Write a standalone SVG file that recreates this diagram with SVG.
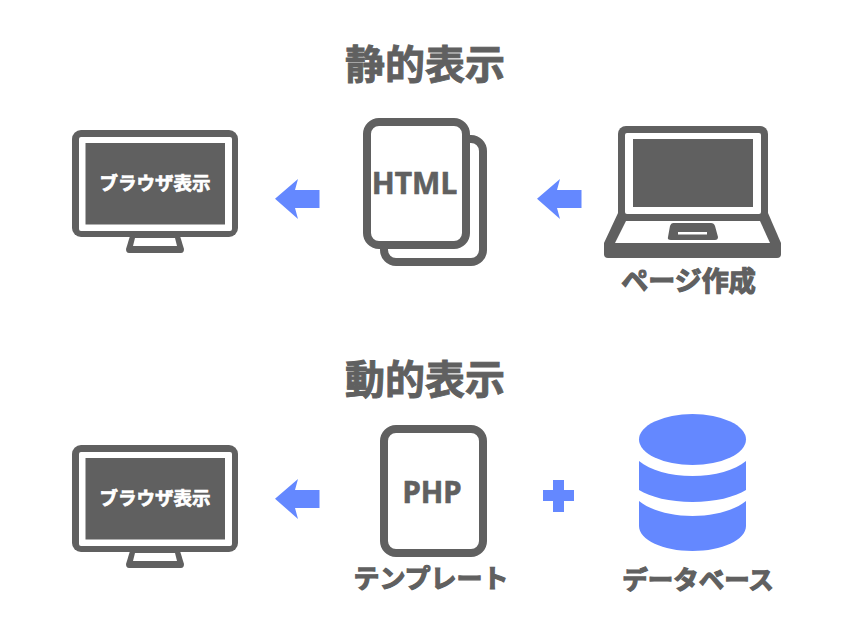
<svg xmlns="http://www.w3.org/2000/svg" width="850" height="638" viewBox="0 0 850 638">
<style>
.g{fill:#606060}
.b{fill:#6488ff}
.w{fill:#fff}
.o{fill:#fff;stroke:#606060;stroke-width:8}
text{font-family:"Noto Sans CJK JP","Noto Sans",sans-serif;font-weight:700;text-anchor:middle}
.t{fill:#606060;font-size:40px;stroke:#606060;stroke-width:.9}
.l{fill:#606060;stroke:#606060;stroke-width:1.2}
.s{fill:#fff;font-size:18.500px;stroke:#fff;stroke-width:.7}
.d{fill:#606060;font-family:"Noto Sans",sans-serif;stroke:#606060;stroke-width:.6}
</style>
<defs>
<g id="mon">
<rect x="72" y="130" width="166" height="107" rx="9" class="g"/>
<rect x="79" y="137" width="153" height="94" rx="2" class="w"/>
<rect x="85.500" y="143" width="139.500" height="81.500" class="g"/>
<path d="M130 236H180L184 249Q184 253 181 253H129Q126 253 126 249Z" class="g"/>
<path d="M135 238H175L177 246H133Z" class="w"/>
</g>
<path id="arr" d="M275 198.700L298 179L295 190H319.500V208H295L298 219Z" class="b"/>
</defs>
<g id="connectors">
<use href="#arr"/>
<use href="#arr" x="262"/>
<use href="#arr" y="300"/>
<path id="plus" d="M553 480H564V490H574V501H564V512H553V501H543V490H553Z" class="b"/>
</g>
<g id="title-static"><text x="425" y="79" class="t">静的表示</text></g>
<g id="title-dynamic"><text x="425" y="394" class="t">動的表示</text></g>
<g id="browser-1">
<use href="#mon"/>
<text x="155" y="190" class="s">ブラウザ表示</text>
</g>
<g id="html">
<rect x="384" y="139" width="99" height="123" rx="12" class="o"/>
<rect x="367" y="122" width="99" height="123" rx="12" class="o"/>
<text x="414.500" y="194" font-size="30" class="d">HTML</text>
</g>
<g id="laptop">
<path d="M618 213L604 243V254Q604 258 608 258H777Q781 258 781 254V243L768 213Z" class="g"/>
<path d="M626 221H760L770 243H615Z" class="w"/>
<path d="M673 223H711Q714 223 715 226L718 237Q718 240 715 240H671Q667 240 668 237L670 226Q671 223 673 223Z" class="g"/>
<rect x="678" y="232" width="29" height="2.500" class="w"/>
<rect x="618" y="126" width="150" height="95" rx="8" class="g"/>
<rect x="625" y="133" width="136" height="81" rx="2" class="w"/>
<rect x="633" y="139" width="120" height="68" class="g"/>
<text x="688.500" y="291" font-size="27" class="l">ページ作成</text>
</g>
<g id="browser-2">
<use href="#mon" y="315"/>
<text x="155" y="505" class="s">ブラウザ表示</text>
</g>
<g id="php">
<rect x="384" y="429" width="99" height="124" rx="12" class="o"/>
<text x="432" y="502.500" font-size="29.500" class="d">PHP</text>
<text x="431" y="588" font-size="26" class="l">テンプレート</text>
</g>
<g id="database">
<ellipse cx="692.500" cy="439.500" rx="53.500" ry="25.500" class="b"/>
<path d="M639 461C650 470 670 476 692.500 476C715 476 735 470 746 461V490C735 497 715 502 692.500 502C670 502 650 497 639 490Z" class="b"/>
<path d="M639 501C650 510 670 516 692.500 516C715 516 735 510 746 501V526C746 540 722 551 692.500 551C663 551 639 540 639 526Z" class="b"/>
<text x="698" y="589" font-size="25.500" class="l">データベース</text>
</g>
</svg>
